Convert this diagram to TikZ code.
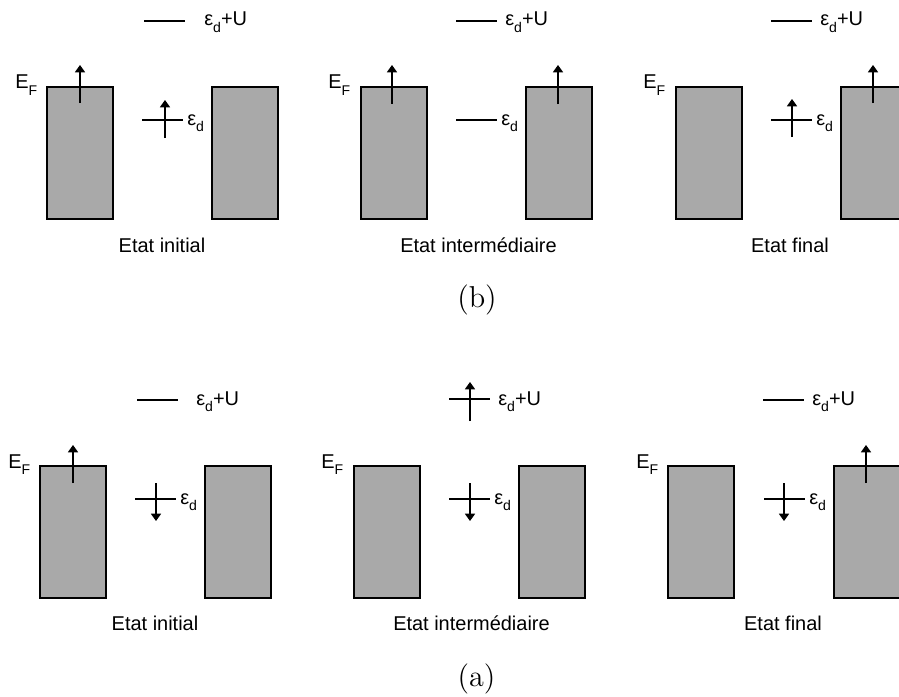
\documentclass[tikz,border=0pt]{standalone}
\usepackage{fontspec}
\usepackage{tikz}
\usetikzlibrary{arrows.meta}
\newfontfamily\arialfont{Liberation Sans}
\newfontfamily\capfont{lmroman12-regular}[Extension=.otf]
\newcommand{\lowsub}[1]{\raisebox{-0.32em}{\fontsize{10}{12}\selectfont #1}}
\newcommand{\lvlE}{ε\lowsub{d}}
\newcommand{\lvlU}{ε\lowsub{d}+U}
\newcommand{\lvlF}{E\lowsub{F}}
\definecolor{bandgray}{RGB}{169,169,169}
\tikzset{
  band/.style={draw, line width=0.85pt, fill=bandgray, minimum width=1.65cm, minimum height=3.3cm, inner sep=0pt},
  txt/.style={font=\arialfont\fontsize{14.2}{17}\selectfont, inner sep=0pt},
  lvltxt/.style={txt, anchor=base west},
  level/.style={line width=0.85pt},
  spin/.style={line width=0.85pt, -{Triangle[width=7.2pt,length=5.2pt]}},
  panel/.style={font=\capfont\fontsize{21.5}{24}\selectfont, inner sep=0pt}
}
\begin{document}
\begin{tikzpicture}[x=0.025cm, y=-0.025cm]
\clip (0,0) rectangle (899,696);

% (b), etat initial
\node[band] (bA1) at (80,153) {};
\node[band] (bA2) at (245,153) {};
\node[lvltxt] (bAf) at (15,89) {\lvlF};
\node[lvltxt] (bAu) at (204,26) {\lvlU};
\node[lvltxt] (bAd) at (187,125) {\lvlE};
\node[txt] (bAt) at (162,245) {Etat initial};
\coordinate (bAu1) at (144,21); \coordinate (bAu2) at (185,21);
\coordinate (bAd1) at (142,120); \coordinate (bAd2) at (183,120);
\coordinate (bAs1) at (165,138); \coordinate (bAs2) at (165,100);
\coordinate (bAe1) at (80,103); \coordinate (bAe2) at (80,65);
\draw[level] (bAu1) -- (bAu2);
\draw[level] (bAd1) -- (bAd2);
\draw[spin] (bAs1) -- (bAs2);
\draw[spin] (bAe1) -- (bAe2);

% (b), etat intermediaire
\node[band] (bB1) at (394,153) {};
\node[band] (bB2) at (559,153) {};
\node[lvltxt] (bBf) at (328,89) {\lvlF};
\node[lvltxt] (bBu) at (505,26) {\lvlU};
\node[lvltxt] (bBd) at (501,125) {\lvlE};
\node[txt] (bBt) at (478.5,245) {Etat intermédiaire};
\coordinate (bBu1) at (456,21); \coordinate (bBu2) at (497,21);
\coordinate (bBd1) at (456,120); \coordinate (bBd2) at (497,120);
\coordinate (bBe1) at (392,103.5); \coordinate (bBe2) at (392,65);
\coordinate (bBg1) at (558,104); \coordinate (bBg2) at (558,65);
\draw[level] (bBu1) -- (bBu2);
\draw[level] (bBd1) -- (bBd2);
\draw[spin] (bBe1) -- (bBe2);
\draw[spin] (bBg1) -- (bBg2);

% (b), etat final
\node[band] (bC1) at (709,153) {};
\node[band] (bC2) at (874,153) {};
\node[lvltxt] (bCf) at (643,89) {\lvlF};
\node[lvltxt] (bCu) at (820,26) {\lvlU};
\node[lvltxt] (bCd) at (816,125) {\lvlE};
\node[txt] (bCt) at (790,245) {Etat final};
\coordinate (bCu1) at (771,21); \coordinate (bCu2) at (812,21);
\coordinate (bCd1) at (771,120); \coordinate (bCd2) at (812,120);
\coordinate (bCs1) at (792,137); \coordinate (bCs2) at (792,99);
\coordinate (bCe1) at (873,103); \coordinate (bCe2) at (873,65);
\draw[level] (bCu1) -- (bCu2);
\draw[level] (bCd1) -- (bCd2);
\draw[spin] (bCs1) -- (bCs2);
\draw[spin] (bCe1) -- (bCe2);

\node[panel] (bLab) at (477,300) {(b)};

% (a), etat initial
\node[band] (aA1) at (73,532) {};
\node[band] (aA2) at (238,532) {};
\node[lvltxt] (aAf) at (8,468) {\lvlF};
\node[lvltxt] (aAu) at (196,405) {\lvlU};
\node[lvltxt] (aAd) at (180,504) {\lvlE};
\node[txt] (aAt) at (155,623) {Etat initial};
\coordinate (aAu1) at (137,400); \coordinate (aAu2) at (178,400);
\coordinate (aAd1) at (135,499); \coordinate (aAd2) at (176,499);
\coordinate (aAs1) at (156,483); \coordinate (aAs2) at (156,521);
\coordinate (aAe1) at (73,483); \coordinate (aAe2) at (73,445);
\draw[level] (aAu1) -- (aAu2);
\draw[level] (aAd1) -- (aAd2);
\draw[spin] (aAs1) -- (aAs2);
\draw[spin] (aAe1) -- (aAe2);

% (a), etat intermediaire
\node[band] (aB1) at (387,532) {};
\node[band] (aB2) at (552,532) {};
\node[lvltxt] (aBf) at (321,468) {\lvlF};
\node[lvltxt] (aBu) at (498,405) {\lvlU};
\node[lvltxt] (aBd) at (494,504) {\lvlE};
\node[txt] (aBt) at (471.5,623) {Etat intermédiaire};
\coordinate (aBu1) at (449,399); \coordinate (aBu2) at (490,399);
\coordinate (aBd1) at (449,499); \coordinate (aBd2) at (490,499);
\coordinate (aBs1) at (470,483); \coordinate (aBs2) at (470,521);
\coordinate (aBr1) at (470,421); \coordinate (aBr2) at (470,382);
\draw[level] (aBu1) -- (aBu2);
\draw[level] (aBd1) -- (aBd2);
\draw[spin] (aBs1) -- (aBs2);
\draw[spin] (aBr1) -- (aBr2);

% (a), etat final
\node[band] (aC1) at (701,532) {};
\node[band] (aC2) at (867,532) {};
\node[lvltxt] (aCf) at (636,468) {\lvlF};
\node[lvltxt] (aCu) at (812,405) {\lvlU};
\node[lvltxt] (aCd) at (809,504) {\lvlE};
\node[txt] (aCt) at (783,623) {Etat final};
\coordinate (aCu1) at (763,400); \coordinate (aCu2) at (804,400);
\coordinate (aCd1) at (764,499); \coordinate (aCd2) at (805,499);
\coordinate (aCs1) at (784,483); \coordinate (aCs2) at (784,521);
\coordinate (aCe1) at (866,483); \coordinate (aCe2) at (866,445);
\draw[level] (aCu1) -- (aCu2);
\draw[level] (aCd1) -- (aCd2);
\draw[spin] (aCs1) -- (aCs2);
\draw[spin] (aCe1) -- (aCe2);

\node[panel] (aLab) at (476.5,679) {(a)};
\end{tikzpicture}
\end{document}
